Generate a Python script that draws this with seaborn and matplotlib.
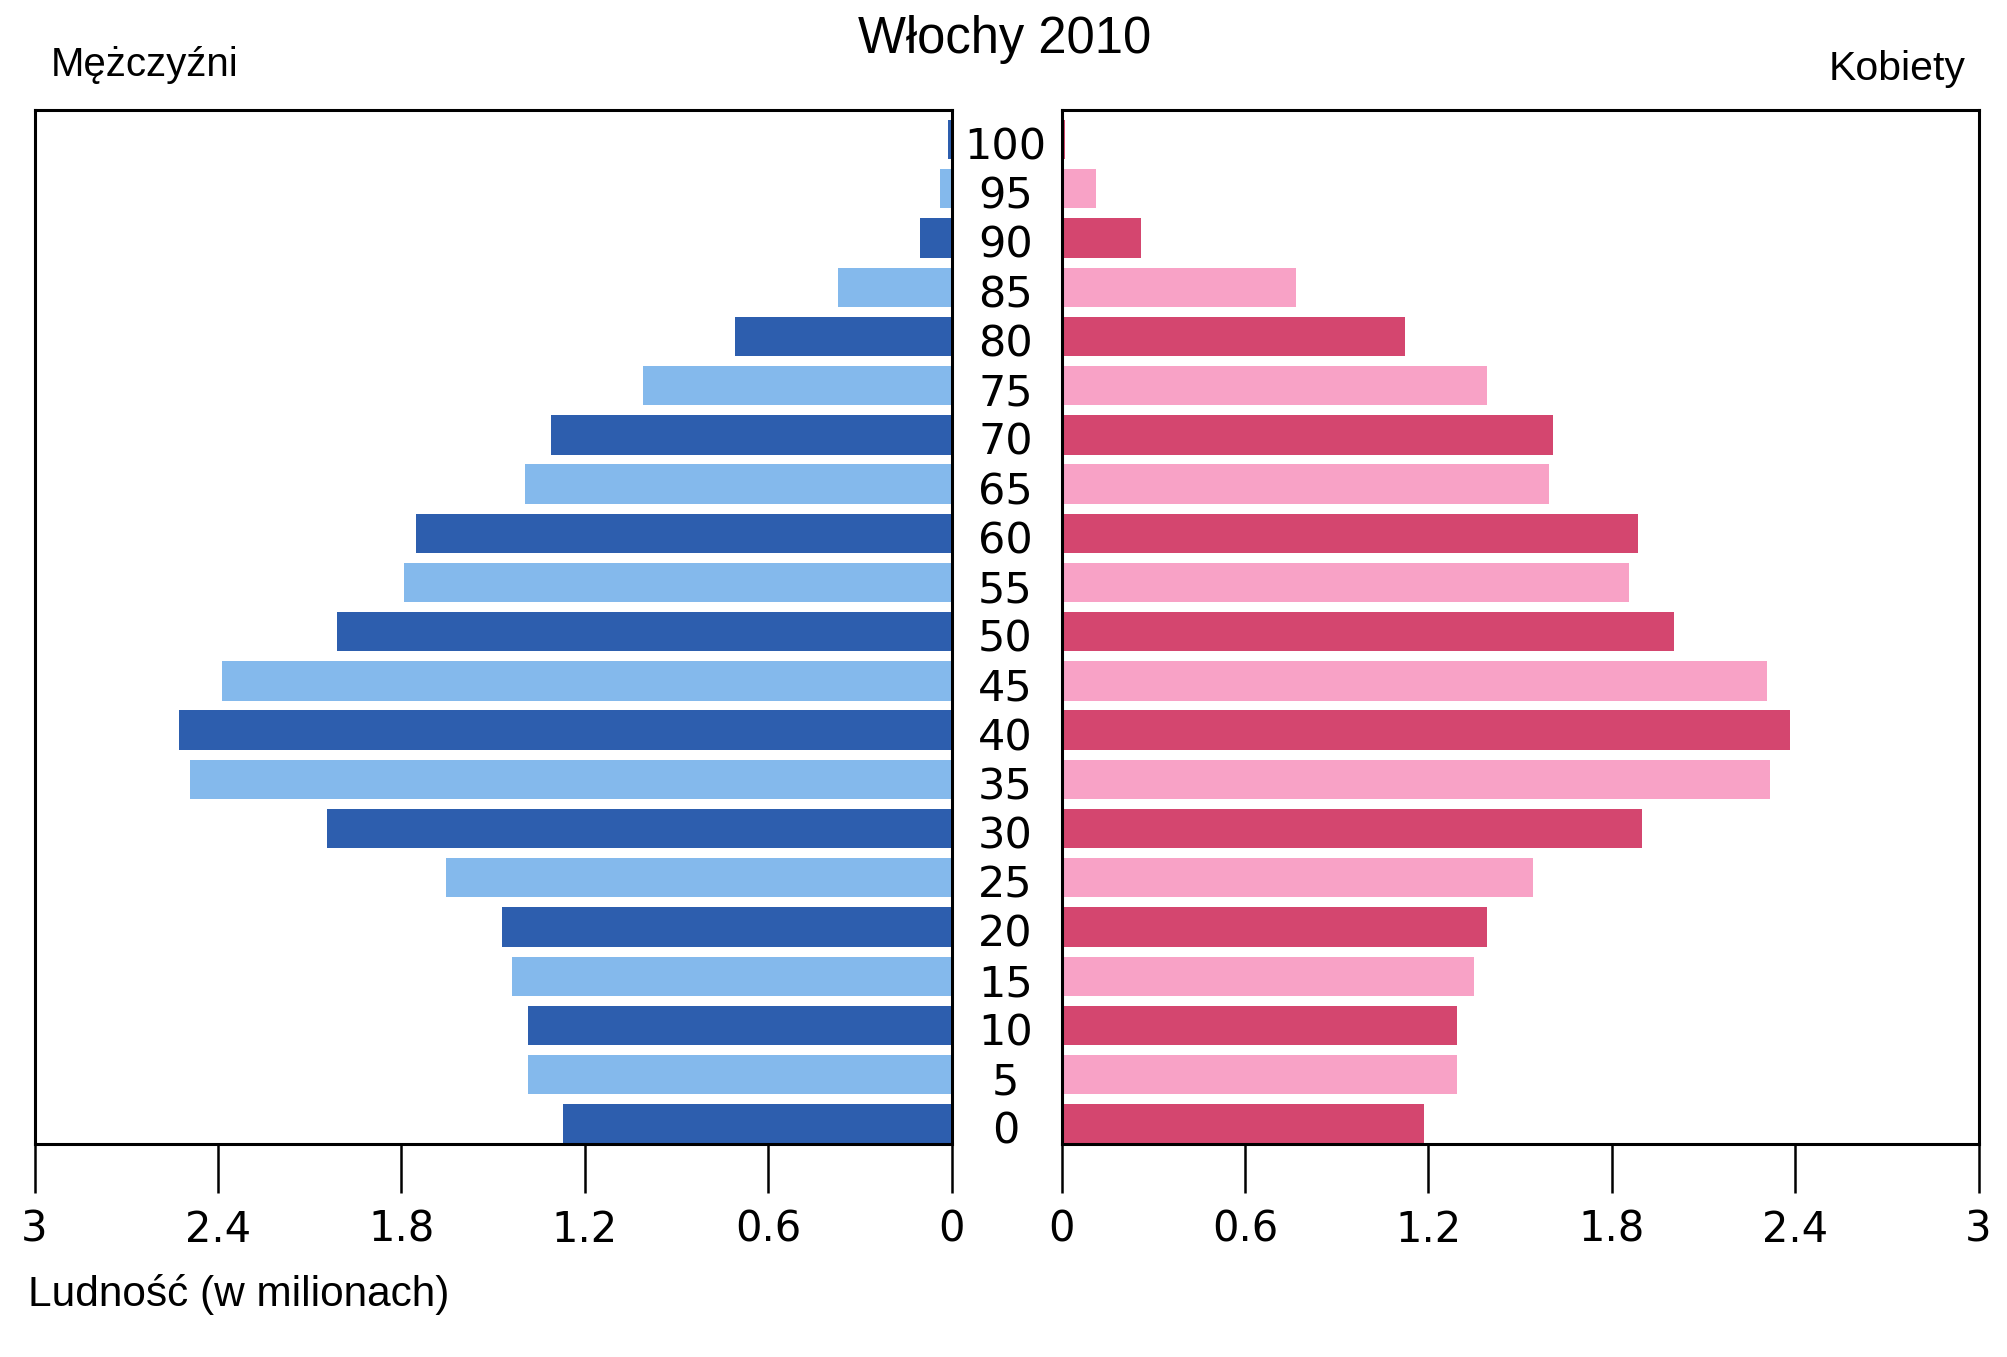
import matplotlib
matplotlib.use("Agg")
import matplotlib.pyplot as plt
import matplotlib.transforms as mtransforms
import seaborn as sns
import pandas as pd

ages = [0, 5, 10, 15, 20, 25, 30, 35, 40, 45, 50, 55, 60, 65, 70, 75, 80, 85, 90, 95, 100]
men = [1.27, 1.387, 1.387, 1.437, 1.47, 1.655, 2.045, 2.493, 2.526, 2.388, 2.011,
       1.793, 1.751, 1.395, 1.311, 1.01, 0.708, 0.373, 0.105, 0.038, 0.012]
women = [1.186, 1.295, 1.295, 1.349, 1.391, 1.542, 1.898, 2.317, 2.384, 2.309, 2.003,
         1.856, 1.885, 1.596, 1.609, 1.391, 1.123, 0.767, 0.26, 0.113, 0.01]
x_ticks = [0, 0.6, 1.2, 1.8, 2.4, 3]
x_tick_labels = ["0", "0.6", "1.2", "1.8", "2.4", "3"]

title = "Włochy 2010"
left_label = "Mężczyźni"
right_label = "Kobiety"
x_label = "Ludność (w milionach)"

men_dark, men_light = "#2D5EAE", "#84B9EC"
women_dark, women_light = "#D4466F", "#F8A2C6"

sns.set_theme(style="white")
plt.rcParams["font.family"] = ["DejaVu Sans"]
label_font = ["Liberation Sans", "DejaVu Sans"]

age_str = [str(a) for a in ages]
order = age_str[::-1]
df = pd.DataFrame({"age": age_str, "men": men, "women": women})
men_pal = {a: (men_dark if i % 2 == 0 else men_light) for i, a in enumerate(age_str)}
women_pal = {a: (women_dark if i % 2 == 0 else women_light) for i, a in enumerate(age_str)}

W, H = 2008, 1357
fig = plt.figure(figsize=(W / 100, H / 100), dpi=100)
ax_l = fig.add_axes([34.6 / W, 0.1573, 917 / W, 0.7616])
ax_r = fig.add_axes([1061.6 / W, 0.1573, 917 / W, 0.7616])

sns.barplot(data=df, x="men", y="age", hue="age", order=order, hue_order=order,
            palette=men_pal, legend=False, width=0.8, linewidth=0, orient="h",
            dodge=False, saturation=1, ax=ax_l)
sns.barplot(data=df, x="women", y="age", hue="age", order=order, hue_order=order,
            palette=women_pal, legend=False, width=0.8, linewidth=0, orient="h",
            dodge=False, saturation=1, ax=ax_r)

for ax in (ax_l, ax_r):
    ax.set_ylim(20.4, -0.6)
    ax.set_xlabel("")
    ax.set_ylabel("")
    for s in ax.spines.values():
        s.set_visible(True)
        s.set_color("black")
        s.set_linewidth(2.2)
    ax.set_xticks(x_ticks)
    ax.set_xticklabels(x_tick_labels, family="DejaVu Sans")
    ax.tick_params(axis="x", direction="out", length=35, width=1.8, color="black",
                   labelsize=30, pad=12, bottom=True, labelcolor="black")

ax_l.set_xlim(3, 0)
ax_r.set_xlim(0, 3)
ax_l.set_yticks([])
ax_r.set_yticks(range(len(order)))
ax_r.set_yticklabels(order, ha="center", family="DejaVu Sans")
ax_r.tick_params(axis="y", length=0, pad=40.5, labelsize=31, labelcolor="black", left=True)
shift = mtransforms.ScaledTranslation(0, -2.5 / 72, fig.dpi_scale_trans)
for lab in ax_r.get_yticklabels():
    lab.set_transform(lab.get_transform() + shift)

fig.text(1005 / W, 0.971, title, ha="center", va="center", fontsize=36.5, family=label_font, color="black")
fig.text(51 / W, 0.952, left_label, ha="left", va="center", fontsize=29, family=label_font, color="black")
fig.text(1966 / W, 0.949, right_label, ha="right", va="center", fontsize=29.5, family=label_font, color="black")
fig.text(28 / W, 0.046, x_label, ha="left", va="center", fontsize=30.5, family=label_font, color="black")

fig.savefig("out.png", dpi=100, facecolor="white")
